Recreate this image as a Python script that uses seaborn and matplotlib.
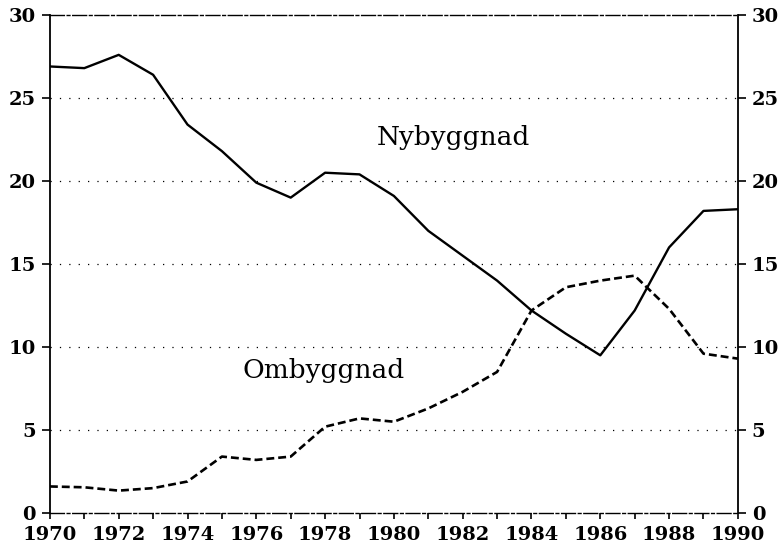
import pandas as pd
import matplotlib.pyplot as plt
import seaborn as sns

# Data
years = list(range(1970, 1991))
nybyggnad = [26.9, 26.8, 27.6, 26.4, 23.4, 21.8, 19.9, 19.0, 20.5, 20.4, 19.1,
             17.0, 15.5, 14.0, 12.2, 10.8, 9.5, 12.2, 16.0, 18.2, 18.3]
ombyggnad = [1.6, 1.55, 1.35, 1.5, 1.9, 3.4, 3.2, 3.4, 5.2, 5.7, 5.5,
             6.3, 7.3, 8.5, 12.2, 13.6, 14.0, 14.3, 12.3, 9.6, 9.3]
y_ticks = [0, 5, 10, 15, 20, 25, 30]
x_labels = list(range(1970, 1991, 2))

df = pd.DataFrame({'År': years, 'Nybyggnad': nybyggnad, 'Ombyggnad': ombyggnad})

sns.set_style("white")
plt.rcParams['font.family'] = ['DejaVu Serif']
plt.rcParams['text.color'] = 'black'
plt.rcParams['xtick.color'] = 'black'
plt.rcParams['ytick.color'] = 'black'

fig = plt.figure(figsize=(7.8, 5.56), dpi=100)
ax = fig.add_axes([0.064, 0.0773, 0.882, 0.8957])

sns.lineplot(x='År', y='Nybyggnad', data=df, ax=ax, color='black', linewidth=1.7)
sns.lineplot(x='År', y='Ombyggnad', data=df, ax=ax, color='black', linewidth=1.9,
             linestyle=(0, (3, 1.5)))

ax.set_xlim(1970, 1990)
ax.set_ylim(0, 30)
ax.set_xticks(years, minor=True)
ax.set_xticks(x_labels)
ax.set_yticks(y_ticks)
ax.set_xlabel('')
ax.set_ylabel('')

# dotted gridlines
for v in y_ticks[1:-1]:
    ax.axhline(v, color='black', linewidth=0.9, linestyle=(0, (1, 6.5)), zorder=0)

for side in ['left', 'right']:
    ax.spines[side].set_color('black')
    ax.spines[side].set_linewidth(1.3)
for side in ['top', 'bottom']:
    ax.spines[side].set_color('black')
    ax.spines[side].set_linewidth(1.0)
    ax.spines[side].set_linestyle((0, (10, 2, 2, 2)))

ax.tick_params(axis='both', which='both', direction='out', color='black', width=1.2)
ax.tick_params(axis='y', length=6, left=True, right=True, labelleft=True, labelright=True,
               labelsize=14, pad=4)
ax.tick_params(axis='x', which='major', length=4, bottom=True, labelsize=14, pad=5)
ax.tick_params(axis='x', which='minor', length=4, bottom=True)
for lbl in ax.get_xticklabels() + ax.get_yticklabels():
    lbl.set_fontweight('bold')
for t in ax.yaxis.get_major_ticks():
    t.label2.set_fontweight('bold')

ax.text(1979.5, 22.6, 'Nybyggnad', fontsize=19, va='center', ha='left')
ax.text(1975.6, 8.6, 'Ombyggnad', fontsize=19, va='center', ha='left')

fig.savefig('out.png', dpi=100)
